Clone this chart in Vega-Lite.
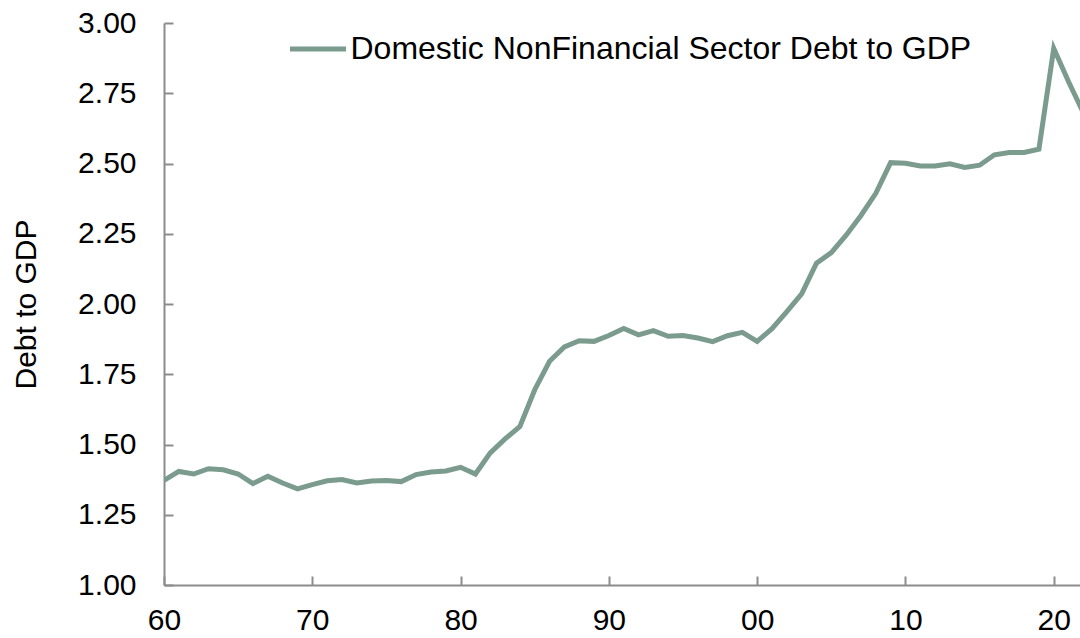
{
  "$schema": "https://vega.github.io/schema/vega-lite/v6.json",
  "width": 916,
  "height": 562,
  "autosize": {"type": "none"},
  "padding": {"left": 164, "top": 23, "right": 0, "bottom": 53},
  "background": "white",
  "config": {
    "view": {"stroke": null},
    "font": "Liberation Sans",
    "axis": {"grid": false, "domainColor": "#8c8c8c", "domainWidth": 2, "tickColor": "#8c8c8c", "tickWidth": 2, "labelFont": "Liberation Sans", "labelFontSize": 30, "labelColor": "#000000", "titleFont": "Liberation Sans", "titleFontSize": 30, "titleFontWeight": "normal", "titleColor": "#000000"}
  },
  "data": {"values": [
    {"year": 1960, "value": 1.372, "series": "Domestic NonFinancial Sector Debt to GDP"},
    {"year": 1961, "value": 1.404, "series": "Domestic NonFinancial Sector Debt to GDP"},
    {"year": 1962, "value": 1.395, "series": "Domestic NonFinancial Sector Debt to GDP"},
    {"year": 1963, "value": 1.414, "series": "Domestic NonFinancial Sector Debt to GDP"},
    {"year": 1964, "value": 1.410, "series": "Domestic NonFinancial Sector Debt to GDP"},
    {"year": 1965, "value": 1.395, "series": "Domestic NonFinancial Sector Debt to GDP"},
    {"year": 1966, "value": 1.361, "series": "Domestic NonFinancial Sector Debt to GDP"},
    {"year": 1967, "value": 1.387, "series": "Domestic NonFinancial Sector Debt to GDP"},
    {"year": 1968, "value": 1.363, "series": "Domestic NonFinancial Sector Debt to GDP"},
    {"year": 1969, "value": 1.342, "series": "Domestic NonFinancial Sector Debt to GDP"},
    {"year": 1970, "value": 1.357, "series": "Domestic NonFinancial Sector Debt to GDP"},
    {"year": 1971, "value": 1.371, "series": "Domestic NonFinancial Sector Debt to GDP"},
    {"year": 1972, "value": 1.375, "series": "Domestic NonFinancial Sector Debt to GDP"},
    {"year": 1973, "value": 1.363, "series": "Domestic NonFinancial Sector Debt to GDP"},
    {"year": 1974, "value": 1.370, "series": "Domestic NonFinancial Sector Debt to GDP"},
    {"year": 1975, "value": 1.372, "series": "Domestic NonFinancial Sector Debt to GDP"},
    {"year": 1976, "value": 1.368, "series": "Domestic NonFinancial Sector Debt to GDP"},
    {"year": 1977, "value": 1.393, "series": "Domestic NonFinancial Sector Debt to GDP"},
    {"year": 1978, "value": 1.402, "series": "Domestic NonFinancial Sector Debt to GDP"},
    {"year": 1979, "value": 1.406, "series": "Domestic NonFinancial Sector Debt to GDP"},
    {"year": 1980, "value": 1.419, "series": "Domestic NonFinancial Sector Debt to GDP"},
    {"year": 1981, "value": 1.395, "series": "Domestic NonFinancial Sector Debt to GDP"},
    {"year": 1982, "value": 1.470, "series": "Domestic NonFinancial Sector Debt to GDP"},
    {"year": 1983, "value": 1.520, "series": "Domestic NonFinancial Sector Debt to GDP"},
    {"year": 1984, "value": 1.564, "series": "Domestic NonFinancial Sector Debt to GDP"},
    {"year": 1985, "value": 1.695, "series": "Domestic NonFinancial Sector Debt to GDP"},
    {"year": 1986, "value": 1.796, "series": "Domestic NonFinancial Sector Debt to GDP"},
    {"year": 1987, "value": 1.847, "series": "Domestic NonFinancial Sector Debt to GDP"},
    {"year": 1988, "value": 1.869, "series": "Domestic NonFinancial Sector Debt to GDP"},
    {"year": 1989, "value": 1.867, "series": "Domestic NonFinancial Sector Debt to GDP"},
    {"year": 1990, "value": 1.888, "series": "Domestic NonFinancial Sector Debt to GDP"},
    {"year": 1991, "value": 1.913, "series": "Domestic NonFinancial Sector Debt to GDP"},
    {"year": 1992, "value": 1.890, "series": "Domestic NonFinancial Sector Debt to GDP"},
    {"year": 1993, "value": 1.905, "series": "Domestic NonFinancial Sector Debt to GDP"},
    {"year": 1994, "value": 1.885, "series": "Domestic NonFinancial Sector Debt to GDP"},
    {"year": 1995, "value": 1.888, "series": "Domestic NonFinancial Sector Debt to GDP"},
    {"year": 1996, "value": 1.879, "series": "Domestic NonFinancial Sector Debt to GDP"},
    {"year": 1997, "value": 1.866, "series": "Domestic NonFinancial Sector Debt to GDP"},
    {"year": 1998, "value": 1.887, "series": "Domestic NonFinancial Sector Debt to GDP"},
    {"year": 1999, "value": 1.899, "series": "Domestic NonFinancial Sector Debt to GDP"},
    {"year": 2000, "value": 1.867, "series": "Domestic NonFinancial Sector Debt to GDP"},
    {"year": 2001, "value": 1.912, "series": "Domestic NonFinancial Sector Debt to GDP"},
    {"year": 2002, "value": 1.973, "series": "Domestic NonFinancial Sector Debt to GDP"},
    {"year": 2003, "value": 2.036, "series": "Domestic NonFinancial Sector Debt to GDP"},
    {"year": 2004, "value": 2.145, "series": "Domestic NonFinancial Sector Debt to GDP"},
    {"year": 2005, "value": 2.183, "series": "Domestic NonFinancial Sector Debt to GDP"},
    {"year": 2006, "value": 2.245, "series": "Domestic NonFinancial Sector Debt to GDP"},
    {"year": 2007, "value": 2.315, "series": "Domestic NonFinancial Sector Debt to GDP"},
    {"year": 2008, "value": 2.394, "series": "Domestic NonFinancial Sector Debt to GDP"},
    {"year": 2009, "value": 2.503, "series": "Domestic NonFinancial Sector Debt to GDP"},
    {"year": 2010, "value": 2.501, "series": "Domestic NonFinancial Sector Debt to GDP"},
    {"year": 2011, "value": 2.491, "series": "Domestic NonFinancial Sector Debt to GDP"},
    {"year": 2012, "value": 2.491, "series": "Domestic NonFinancial Sector Debt to GDP"},
    {"year": 2013, "value": 2.499, "series": "Domestic NonFinancial Sector Debt to GDP"},
    {"year": 2014, "value": 2.486, "series": "Domestic NonFinancial Sector Debt to GDP"},
    {"year": 2015, "value": 2.494, "series": "Domestic NonFinancial Sector Debt to GDP"},
    {"year": 2016, "value": 2.531, "series": "Domestic NonFinancial Sector Debt to GDP"},
    {"year": 2017, "value": 2.539, "series": "Domestic NonFinancial Sector Debt to GDP"},
    {"year": 2018, "value": 2.539, "series": "Domestic NonFinancial Sector Debt to GDP"},
    {"year": 2019, "value": 2.551, "series": "Domestic NonFinancial Sector Debt to GDP"},
    {"year": 2020, "value": 2.910, "series": "Domestic NonFinancial Sector Debt to GDP"},
    {"year": 2021, "value": 2.791, "series": "Domestic NonFinancial Sector Debt to GDP"},
    {"year": 2022, "value": 2.680, "series": "Domestic NonFinancial Sector Debt to GDP"}
  ]},
  "mark": {"type": "line", "strokeWidth": 5, "clip": true, "strokeJoin": "miter", "strokeCap": "butt"},
  "encoding": {
    "x": {
      "field": "year", "type": "quantitative",
      "scale": {"domain": [1960, 2021.77], "nice": false, "zero": false},
      "axis": {"title": null, "values": [1960, 1970, 1980, 1990, 2000, 2010, 2020], "labelExpr": "substring(format(datum.value, 'd'), 2)", "tickSize": -9, "labelPadding": 29, "labelFlush": false}
    },
    "y": {
      "field": "value", "type": "quantitative",
      "scale": {"domain": [1, 3], "nice": false, "zero": false},
      "axis": {"title": "Debt to GDP", "values": [1, 1.25, 1.5, 1.75, 2, 2.25, 2.5, 2.75, 3], "format": ".2f", "tickSize": -9, "labelPadding": 37, "titlePadding": 36, "labelFlush": false}
    },
    "color": {
      "field": "series", "type": "nominal",
      "scale": {"range": ["#7b9b8e"]},
      "legend": {"title": null, "orient": "none", "legendX": 123.5, "legendY": -4.5, "symbolType": "stroke", "symbolSize": 3136, "symbolStrokeWidth": 5, "labelFontSize": 32, "labelFont": "Liberation Sans", "labelColor": "#000000", "labelOffset": 2, "padding": 0, "labelLimit": 900}
    }
  }
}
